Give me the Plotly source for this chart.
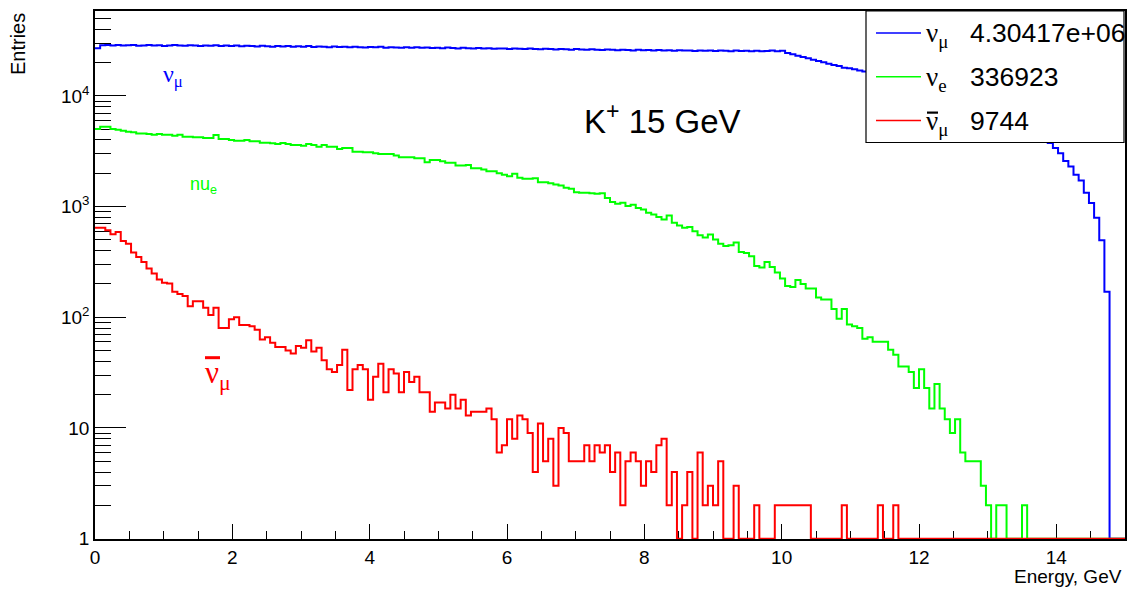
import numpy as np
import plotly.graph_objects as go

# ---------------- data (200 bins, 0-15 GeV) ----------------
n_bins = 200
e_min, e_max = 0.0, 15.0

numu = [27000, 28700, 28900, 28600, 28800, 28500, 28700, 28900, 28400, 28600,
        28800, 28500, 28700, 28300, 28600, 28900, 28500, 28400, 28700, 28500,
        28300, 28600, 28400, 28700, 28200, 28500, 28300, 28600, 28100, 28400,
        28200, 28000, 28400, 28100, 27900, 28300, 28000, 28200, 27800, 28100,
        27900, 28200, 27700, 28000, 27800, 27600, 28000, 27700, 27900, 27500,
        27800, 27600, 27400, 27700, 27500, 27800, 27300, 27600, 27400, 27200,
        27500, 27300, 27600, 27200, 27400, 27100, 27300, 27000, 27400, 27100,
        26900, 27200, 27000, 26800, 27100, 26900, 27000, 26700, 26900, 26800,
        26600, 26900, 26700, 26500, 26800, 26600, 26400, 26700, 26500, 26300,
        26600, 26400, 26200, 26500, 26300, 26100, 26400, 26200, 26000, 26300,
        26100, 25900, 26200, 26000, 25800, 26100, 25900, 26000, 25700, 26000,
        25800, 25900, 25600, 25900, 25700, 25800, 25500, 25800, 25600, 25700,
        25500, 25800, 25600, 25400, 25700, 25500, 25600, 25300, 25600, 25400,
        25500, 25700, 25400, 25600,
        24430, 23770, 23110, 22480, 21880, 21280, 20700, 20140, 19550, 19050,
        18660, 18020, 17790, 17410, 17000, 16600,
        16200, 15800, 15400, 15000, 14600, 14200, 13800, 13400, 13000, 12600,
        12200, 11800, 11400, 11000, 10600, 10200, 9800, 9400, 9000, 8600,
        8200, 7800, 7400, 7000, 6650, 6300, 5950, 5600, 5300, 5000,
        4700, 4450, 4200, 4050, 3900,
        3760, 3390, 3030, 2590, 2300, 1940, 1720, 1335, 1077, 795, 497, 170,
        0, 0, 0]

nue = [5025, 5270, 5270, 5025, 4950, 4850, 4750, 4690, 4590, 4590,
       4530, 4467, 4530, 4467, 4467, 4375, 4467, 4285, 4285, 4226,
       4226, 4170, 4170, 4437, 4083, 4083, 4000, 3945, 3945, 4000,
       3890, 3890, 3785, 3785, 3733, 3681, 3750, 3681, 3606, 3606,
       3556, 3681, 3606, 3483, 3606, 3483, 3483, 3320, 3390, 3390,
       3140, 3140, 3098, 3098, 3033, 2993, 2993, 2993, 2890, 2790,
       2790, 2790, 2735, 2735, 2517, 2643, 2643, 2570, 2485, 2485,
       2350, 2350, 2383, 2222, 2222, 2163, 2089, 2089, 2005, 1938,
       1883, 1977, 1820, 1783, 1783, 1806, 1662, 1662, 1629, 1585,
       1553, 1480, 1450, 1352, 1334, 1334, 1324, 1306, 1324, 1194,
       1099, 1062, 1085, 1011, 1040, 970, 944, 881, 851, 805,
       767, 833, 716, 677, 646, 654, 598, 550, 525, 559,
       504, 463, 441, 448, 473, 389, 382, 356, 291, 282,
       316, 285, 254, 224, 192, 188, 217, 200, 182, 182,
       151, 145, 145, 119, 97, 119, 86, 83, 80, 64,
       66, 60, 60, 60, 51, 46, 36, 36, 32, 23,
       34, 23, 15, 25, 15, 12, 9, 12, 6, 5,
       5, 5, 3, 2, 0, 2, 2, 0, 0, 0,
       2, 0, 0, 0, 0, 0, 0, 0, 0, 0,
       0, 0, 0, 0, 0, 0, 0, 0, 0, 0]

anumu = [646, 646, 611, 562, 590, 489, 463, 385, 351, 316,
         276, 249, 220, 205, 202, 170, 162, 156, 126, 140,
         140, 122, 105, 122, 80, 80, 96, 100, 85, 85,
         83, 77, 63, 66, 59, 54, 54, 50, 47, 55,
         53, 62, 49, 53, 41, 34, 32, 37, 51, 22,
         34, 37, 34, 18, 29, 38, 21, 34, 31, 21,
         32, 26, 29, 21, 21, 14, 17, 17, 15, 20,
         15, 18, 13, 14, 14, 14, 15, 12, 6, 7,
         12, 8, 13, 12, 9, 4, 11, 5, 8, 3,
         10, 9, 5, 5, 5, 7, 5, 7, 6, 7,
         4, 6, 2, 5, 6, 5, 3, 5, 4, 7,
         8, 2, 4, 0, 2, 4, 0, 6, 2, 3,
         2, 5, 0, 0, 3, 0, 0, 0, 2, 0,
         0, 0, 2, 2, 2, 2, 2, 2, 2, 0,
         0, 0, 0, 0, 0, 2, 0, 0, 0, 0,
         0, 0, 2, 0, 0, 2, 0, 0, 0, 0,
         0, 0, 0, 0, 0, 0, 0, 0, 0, 0,
         0, 0, 0, 0, 0, 0, 0, 0, 0, 0,
         0, 0, 0, 0, 0, 0, 0, 0, 0, 0,
         0, 0, 0, 0, 0, 0, 0, 0, 0, 0]

legend_entries = ["4.30417e+06", "336923", "9744"]
x_tick_vals = [0, 2, 4, 6, 8, 10, 12, 14]
y_tick_vals = [1, 10, 100, 1000, 10000]
y_tick_text = ["1", "10", "10<sup>2</sup>", "10<sup>3</sup>", "10<sup>4</sup>"]

# ---------------- geometry ----------------
# the page body has an 8 px margin, so the figure is shifted by that much
OFF = 8
W, H = 1128, 582
ML, MR, MT, MB = 87, 11, 1, 51
PW, PH = W - ML - MR, H - MT - MB
DEC = 111.1                      # pixels per decade
Y_BOT = -0.003
Y_TOP = Y_BOT + PH / DEC


def px(sx):
    """screen x (pixels in the window) -> paper x"""
    return (sx - OFF - ML) / PW


def py(sy):
    """screen y (pixels in the window) -> paper y"""
    return (H - MB - (sy - OFF)) / PH


edges = np.linspace(e_min, e_max, n_bins + 1)
SANS = "Liberation Sans, Arial, sans-serif"
SERIF = "Liberation Serif, Times New Roman, serif"

fig = go.Figure()
for vals, col in [(numu, "#0000ff"), (nue, "#00ff00"), (anumu, "#ff0000")]:
    v = np.array(vals, dtype=float)
    v = np.where(v > 0, v, 1.0)  # empty bins drawn at the axis minimum, as ROOT does
    y = np.append(v, v[-1])
    fig.add_trace(go.Scatter(x=edges, y=y, mode="lines", line_shape="hv",
                             line=dict(color=col, width=2), showlegend=False,
                             hoverinfo="skip"))

minor_y = [m * 10 ** d for d in range(0, 5) for m in range(2, 10) if m * 10 ** d < 10 ** Y_TOP]

fig.update_layout(
    width=W, height=H,
    margin=dict(l=ML, r=MR, t=MT, b=MB),
    paper_bgcolor="white", plot_bgcolor="white",
    font=dict(family=SANS, color="black", size=19),
    xaxis=dict(range=[e_min, e_max], showgrid=False, zeroline=False,
               showline=True, linecolor="black", linewidth=1.5, mirror=True,
               ticks="inside", ticklen=15, tickwidth=1.2, tickcolor="black",
               tickvals=x_tick_vals, tickfont=dict(size=19),
               minor=dict(ticks="inside", ticklen=8, tickwidth=1.2, tickcolor="black", dtick=0.5),
               layer="below traces"),
    yaxis=dict(type="log", range=[Y_BOT, Y_TOP], showgrid=False, zeroline=False,
               showline=True, linecolor="black", linewidth=1.5, mirror=True,
               ticks="inside", ticklen=31, tickwidth=1.2, tickcolor="black",
               tickvals=y_tick_vals, ticktext=y_tick_text, tickfont=dict(size=19),
               minor=dict(ticks="inside", ticklen=16, tickwidth=1.2, tickcolor="black",
                          tickvals=minor_y),
               layer="below traces"),
)

# legend box (opaque, covers curves like ROOT's TLegend)
fig.add_shape(type="rect", xref="paper", yref="paper",
              x0=px(866), x1=px(1124), y0=py(141), y1=py(9),
              fillcolor="white", line=dict(color="black", width=1.2), layer="above")
legend_rows = [(31, "#0000ff", "ν<sub>μ</sub>"), (75, "#00ff00", "ν<sub>e</sub>"),
               (119, "#ff0000", "ν<sub>μ</sub>")]
for (yy, col, sym), num in zip(legend_rows, legend_entries):
    fig.add_shape(type="line", xref="paper", yref="paper",
                  x0=px(876), x1=px(921), y0=py(yy), y1=py(yy),
                  line=dict(color=col, width=1.5), layer="above")
    fig.add_annotation(xref="paper", yref="paper", x=px(924), y=py(yy + 2),
                       xanchor="left", yanchor="middle", showarrow=False,
                       text=sym, font=dict(family=SERIF, size=27, color="black"))
    fig.add_annotation(xref="paper", yref="paper", x=px(968), y=py(yy),
                       xanchor="left", yanchor="middle", showarrow=False,
                       text=num, font=dict(family=SANS, size=26.5, color="black"))
# bar over the anti-neutrino symbol in the legend
fig.add_shape(type="line", xref="paper", yref="paper",
              x0=px(927), x1=px(938), y0=py(111), y1=py(111),
              line=dict(color="black", width=2.2), layer="above")

# in-plot labels
fig.add_annotation(xref="paper", yref="paper", x=px(161), y=py(74), xanchor="left",
                   yanchor="middle", showarrow=False, text="ν<sub>μ</sub>",
                   font=dict(family=SERIF, size=24, color="#0000ff"))
fig.add_annotation(xref="paper", yref="paper", x=px(188), y=py(184), xanchor="left",
                   yanchor="middle", showarrow=False, text="nu<sub>e</sub>",
                   font=dict(family=SANS, size=18, color="#00ff00"))
fig.add_annotation(xref="paper", yref="paper", x=px(203), y=py(374), xanchor="left",
                   yanchor="middle", showarrow=False, text="ν<sub>μ</sub>",
                   font=dict(family=SERIF, size=31, color="#ff0000"))
fig.add_shape(type="line", xref="paper", yref="paper",
              x0=px(205), x1=px(220), y0=py(357), y1=py(357),
              line=dict(color="#ff0000", width=3), layer="above")
fig.add_annotation(xref="paper", yref="paper", x=px(582), y=py(117), xanchor="left",
                   yanchor="middle", showarrow=False, text="K<sup>+</sup> 15 GeV",
                   font=dict(family=SANS, size=33, color="black"))

# axis titles (ROOT style placement)
fig.add_annotation(xref="paper", yref="paper", x=px(1124), y=py(577), xanchor="right",
                   yanchor="middle", showarrow=False, text="Energy, GeV",
                   font=dict(family=SANS, size=19, color="black"))
fig.add_annotation(xref="paper", yref="paper", x=px(18), y=py(9), xanchor="center",
                   yanchor="top", showarrow=False, text="Entries", textangle=-90,
                   font=dict(family=SANS, size=20, color="black"))

fig.write_html("out.html")
